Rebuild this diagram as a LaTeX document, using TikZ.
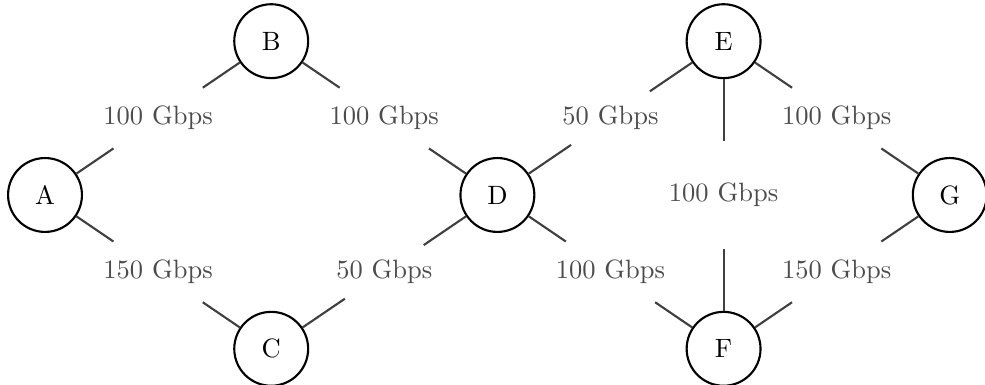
\documentclass[tikz,border=0pt]{standalone}
\begin{document}
\begin{tikzpicture}[
  vertex/.style={circle,draw=black,thick,minimum size=0.98cm,inner sep=0pt},
  link/.style={draw=black!75,thick},
  bw/.style={circle,fill=white,text=black!70,inner sep=-0.6pt}
]
\useasboundingbox (-0.597,-2.52) rectangle (12.467,2.586);
\node[vertex] (A) at (0,0) {A};
\node[vertex] (B) at (3,2.04) {B};
\node[vertex] (C) at (3,-2.04) {C};
\node[vertex] (D) at (6,0) {D};
\node[vertex] (E) at (9,2.04) {E};
\node[vertex] (F) at (9,-2.04) {F};
\node[vertex] (G) at (12,0) {G};
\path[link] (A) -- node[bw] {100 Gbps} (B);
\path[link] (A) -- node[bw] {150 Gbps} (C);
\path[link] (B) -- node[bw] {100 Gbps} (D);
\path[link] (C) -- node[bw] {50 Gbps} (D);
\path[link] (D) -- node[bw] {50 Gbps} (E);
\path[link] (D) -- node[bw] {100 Gbps} (F);
\path[link] (E) -- node[bw] {100 Gbps} (F);
\path[link] (E) -- node[bw] {100 Gbps} (G);
\path[link] (F) -- node[bw] {150 Gbps} (G);
\end{tikzpicture}
\end{document}
